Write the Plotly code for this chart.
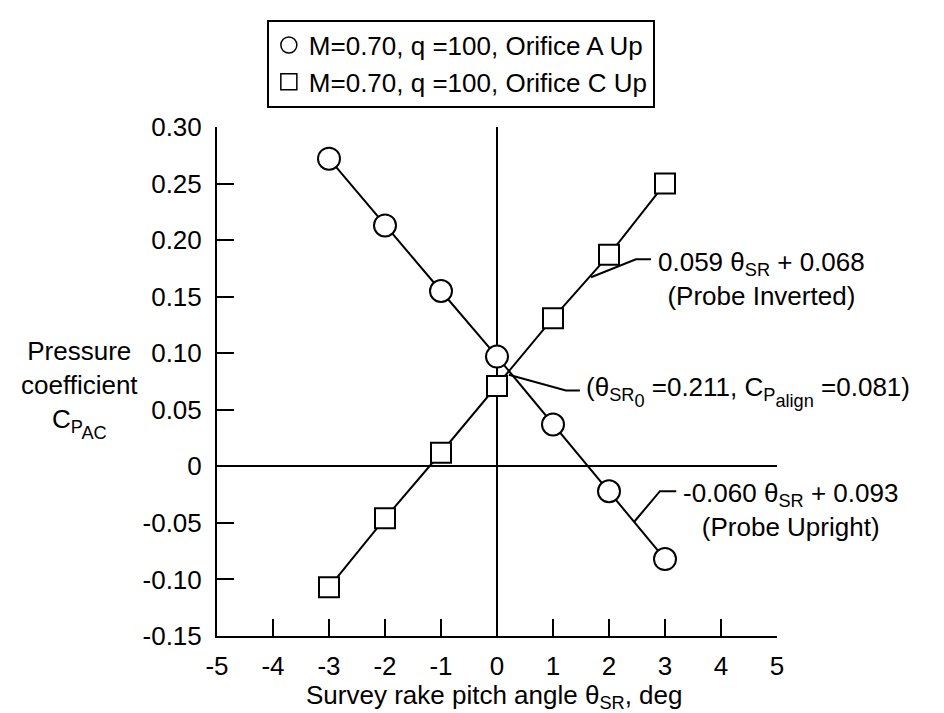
import plotly.graph_objects as go

# ---- data ----
pitch_angle = [-3, -2, -1, 0, 1, 2, 3]
cp_orifice_a_up = [0.272, 0.213, 0.155, 0.097, 0.037, -0.022, -0.082]
cp_orifice_c_up = [-0.107, -0.046, 0.012, 0.071, 0.131, 0.187, 0.250]

series_names = ["M=0.70, q =100, Orifice A Up", "M=0.70, q =100, Orifice C Up"]

x_ticks = [-5, -4, -3, -2, -1, 0, 1, 2, 3, 4, 5]
x_tick_labels = ["-5", "-4", "-3", "-2", "-1", "0", "1", "2", "3", "4", "5"]
y_ticks = [-0.15, -0.10, -0.05, 0, 0.05, 0.10, 0.15, 0.20, 0.25, 0.30]
y_tick_labels = ["-0.15", "-0.10", "-0.05", "0", "0.05", "0.10", "0.15", "0.20", "0.25", "0.30"]

# fit-line annotations
fit_inverted = (0.059, 0.068)
fit_upright = (-0.060, 0.093)
intersection = (0.211, 0.081)

FONT = "Liberation Sans, Arial, Helvetica, sans-serif"
FS = 26

def subsub(txt):
    # second-level subscript, same size as first-level, shifted further down
    return f"<span style='baseline-shift:-0.35em'>{txt}</span>"

fig = go.Figure()

marker_common = dict(color="white", line=dict(color="black", width=2))

fig.add_trace(go.Scatter(
    x=pitch_angle, y=cp_orifice_a_up, mode="lines+markers",
    line=dict(color="black", width=2),
    marker=dict(symbol="circle", size=22, **marker_common),
    showlegend=False, cliponaxis=False))
fig.add_trace(go.Scatter(
    x=pitch_angle, y=cp_orifice_c_up, mode="lines+markers",
    line=dict(color="black", width=2),
    marker=dict(symbol="square", size=20, **marker_common),
    showlegend=False, cliponaxis=False))

# legend-only entries (marker only)
fig.add_trace(go.Scatter(x=[None], y=[None], mode="markers", name=series_names[0],
                         marker=dict(symbol="circle", size=18, color="white",
                                     line=dict(color="black", width=1.5))))
fig.add_trace(go.Scatter(x=[None], y=[None], mode="markers", name=series_names[1],
                         marker=dict(symbol="square", size=16, color="white",
                                     line=dict(color="black", width=1.5))))

# leader lines
def leader(points):
    path = "M " + " L ".join(f"{px},{py}" for px, py in points)
    fig.add_shape(type="path", path=path, xref="x", yref="y",
                  line=dict(color="black", width=2))

xa = 1.68
leader([(xa, fit_inverted[0] * xa + fit_inverted[1]), (2.48, 0.183), (2.75, 0.183)])
leader([intersection, (1.23, 0.067), (1.48, 0.067)])
xb = 2.45
leader([(xb, -0.022 + (xb - 2) * (-0.060)), (2.91, -0.022), (3.2, -0.022)])

annots = [
    dict(x=2.84, y=0.166, text="0.059 θ<sub>SR</sub> + 0.068<br>(Probe Inverted)"),
    dict(x=1.55, y=0.066,
         text=f"(θ<sub>SR{subsub('0')}</sub> =0.211, C<sub>P{subsub('align')}</sub> =0.081)"),
    dict(x=3.28, y=-0.039, text="-0.060 θ<sub>SR</sub> + 0.093<br>(Probe Upright)"),
]
for a in annots:
    fig.add_annotation(x=a["x"], y=a["y"], text=a["text"], xref="x", yref="y",
                       xanchor="left", yanchor="middle", align="center", showarrow=False,
                       font=dict(family=FONT, size=FS, color="black"))

# y-axis title (horizontal, stacked lines)
fig.add_annotation(x=-0.245, y=0.485, xref="paper", yref="paper",
                   text=f"Pressure<br>coefficient<br>C<sub>P{subsub('AC')}</sub>",
                   xanchor="center", yanchor="middle", align="center", showarrow=False,
                   font=dict(family=FONT, size=FS, color="black"))
# x-axis title
fig.add_annotation(x=0.495, y=-0.118, xref="paper", yref="paper",
                   text="Survey rake pitch angle θ<sub>SR</sub>, deg",
                   xanchor="center", yanchor="middle", showarrow=False,
                   font=dict(family=FONT, size=FS, color="black"))

axis_common = dict(showgrid=False, showline=True, linecolor="black", linewidth=2,
                   ticks="inside", ticklen=17, tickwidth=2, tickcolor="black",
                   zeroline=True, zerolinecolor="black", zerolinewidth=2,
                   tickfont=dict(family=FONT, size=FS, color="black"))

fig.update_xaxes(range=[-5, 5], tickvals=x_ticks, ticktext=x_tick_labels,
                 ticklabelstandoff=6, **axis_common)
fig.update_yaxes(range=[-0.15, 0.30], tickvals=y_ticks, ticktext=y_tick_labels,
                 ticklabelstandoff=8, **axis_common)

fig.update_layout(
    width=944, height=713,
    margin=dict(l=209, r=175, t=112, b=85),
    paper_bgcolor="white", plot_bgcolor="white",
    font=dict(family=FONT, size=FS, color="black"),
    legend=dict(x=0.089, y=1.211, xanchor="left", yanchor="top",
                bordercolor="black", borderwidth=2, bgcolor="white",
                font=dict(family=FONT, size=FS, color="black"),
                itemsizing="trace", tracegroupgap=0),
)

fig.write_html("out.html")
